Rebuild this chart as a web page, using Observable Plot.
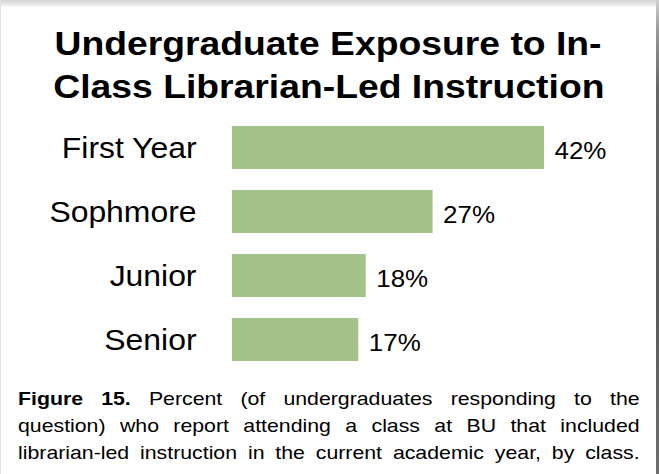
<!DOCTYPE html>
<html>
<head>
<meta charset="utf-8">
<script src="https://cdn.jsdelivr.net/npm/d3@7"></script>
<script src="https://cdn.jsdelivr.net/npm/@observablehq/plot@0.6"></script>
<style>
  html, body { margin: 0; padding: 0; background: #fff; }
  #frame { position: relative; width: 659px; height: 474px; background: #fff; overflow: hidden;
           font-family: "Liberation Sans", Arial, Helvetica, sans-serif; color: #000; }
  #topband { position: absolute; left: 0; top: 0; width: 659px; height: 7px;
             background: linear-gradient(to bottom, #d4d4d4, #ececec 70%, #f8f8f8); }
  #rightband { position: absolute; right: 0; top: 0; width: 3px; height: 474px;
               background: linear-gradient(to bottom, #d0d0d0 0px, #9a9a9a 30px, #666 90px, #5a5a5a 300px, #6e6e6e 474px); }
  #leftline { position: absolute; left: 0; top: 0; width: 1px; height: 474px; background: #e2e2e2; }
  #title { position: absolute; top: 22px; left: 0; width: 657px; text-align: center;
           font-weight: bold; font-size: 33px; line-height: 43px; }
  #title span { display: inline-block; transform: scaleX(1.13); transform-origin: center; white-space: nowrap; }
  #chart { position: absolute; top: 119px; left: 0; }
  #caption { position: absolute; top: 385px; left: 18px; width: 555px; font-size: 19px; line-height: 27px;
             transform: scaleX(1.12); transform-origin: 0 0; }
  #caption div { text-align: justify; text-align-last: justify; white-space: nowrap; }
</style>
</head>
<body>
<div id="frame">
  <div id="topband"></div>
  <div id="leftline"></div>
  <div id="title"><span>Undergraduate Exposure to In-</span><br><span>Class Librarian-Led Instruction</span></div>
  <div id="chart"></div>
  <div id="caption">
    <div><b>Figure 15.</b> Percent (of undergraduates responding to the</div>
    <div>question) who report attending a class at BU that included</div>
    <div>librarian-led instruction in the current academic year, by class.</div>
  </div>
  <div id="rightband"></div>
</div>
<script>
const categories = ["First Year", "Sophmore", "Junior", "Senior"];
const percents = [42, 27, 18, 17];
const valueLabels = ["42%", "27%", "18%", "17%"];

const data = categories.map((c, i) => ({cat: c, value: percents[i], label: valueLabels[i]}));

const chart = Plot.plot({
  width: 659,
  height: 249,
  marginLeft: 232,
  marginRight: 115,
  marginTop: 0,
  marginBottom: 0,
  style: {background: "transparent", color: "#000", fontFamily: "'Liberation Sans', Arial, sans-serif", overflow: "visible"},
  x: {domain: [0, 42], axis: null},
  y: {domain: categories, paddingInner: 0.333, paddingOuter: 0.11, axis: null},
  marks: [
    Plot.barX(data, {x: "value", y: "cat", fill: "#a4c38b"}),
    Plot.axisY({tickSize: 0, tickPadding: 36, fontSize: 29, dy: 0.6, fill: "#000", label: null, className: "catlab"}),
    Plot.text(data, {x: "value", y: "cat", text: "label", dx: 10, dy: 3, textAnchor: "start", fontSize: 24.5, fill: "#000", className: "vallab"})
  ]
});
document.getElementById("chart").appendChild(chart);

function stretch(sel, s) {
  d3.select(chart).selectAll(sel).each(function() {
    const t = d3.select(this);
    const x = +(t.attr("x") || 0);
    const prev = t.attr("transform") || "";
    t.attr("transform", `${prev} translate(${x},0) scale(${s},1) translate(${-x},0)`);
  });
}
stretch(".catlab text", 1.1);
stretch(".vallab text", 1.06);
</script>
</body>
</html>
